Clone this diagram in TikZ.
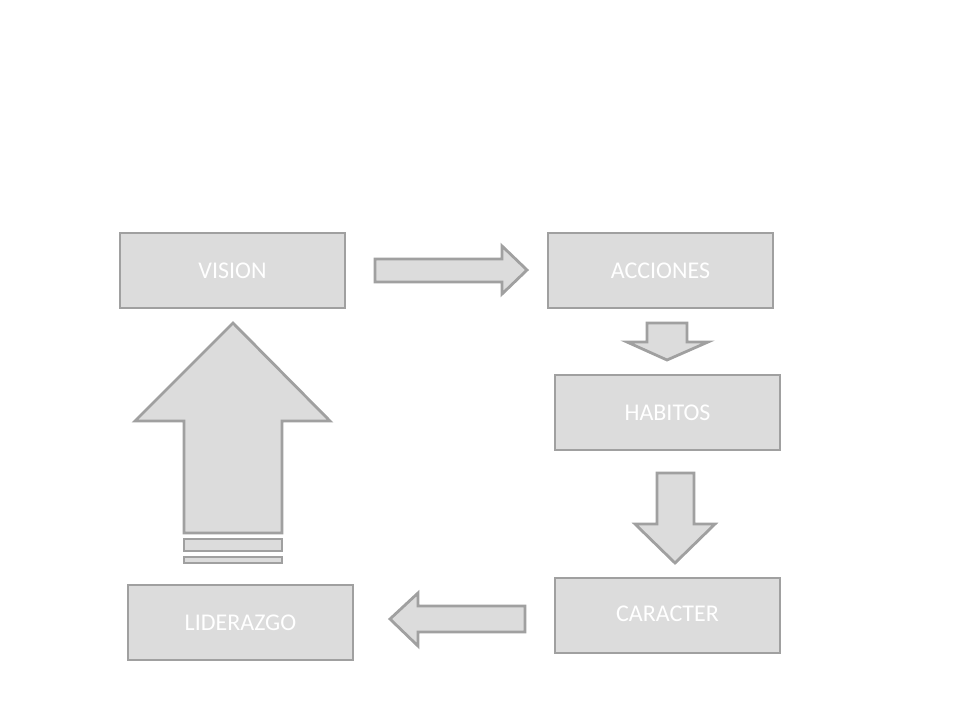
\documentclass[tikz,border=0pt]{standalone}
\usepackage{fontspec}
\setmainfont{Carlito}
\definecolor{boxfill}{HTML}{DCDCDC}
\definecolor{boxline}{HTML}{A0A0A0}
\begin{document}
\begin{tikzpicture}[x=1pt,y=-1pt,
  shp/.style={fill=boxfill,draw=boxline,line width=2.8pt,line join=miter},
  stepbox/.style={shp,minimum width=225pt,minimum height=75pt,inner sep=0pt,text=white,font=\fontsize{24}{28}\selectfont}]
\useasboundingbox (0,0) rectangle (960,720);
\node[stepbox] (vision) at (232.5,270.5) {VISION};
\node[stepbox] (acciones) at (660.5,270.5) {ACCIONES};
\node[stepbox] (habitos) at (667.5,412.5) {HABITOS};
\node[stepbox] (caracter) at (667.5,615.5) {\raisebox{3pt}{CARACTER}};
\node[stepbox] (liderazgo) at (240.5,622.5) {LIDERAZGO};
% right arrow
\draw[shp] (375,259) -- (502,259) -- (502,246) -- (527,270) -- (502,294) -- (502,282) -- (375,282) -- cycle;
% small down arrow
\draw[shp] (647,323) -- (687,323) -- (687,342) -- (708,342) -- (667,360) -- (627,342) -- (647,342) -- cycle;
% down arrow 2
\draw[shp] (657,473) -- (694,473) -- (694,524) -- (715,524) -- (675,563) -- (635,524) -- (657,524) -- cycle;
% left arrow
\draw[shp] (525,606) -- (418,606) -- (418,593) -- (390,619) -- (418,646) -- (418,632) -- (525,632) -- cycle;
% big up arrow
\draw[shp] (233,323) -- (330,421) -- (282,421) -- (282,533) -- (184,533) -- (184,421) -- (135,421) -- cycle;
\draw[shp] (184,539) rectangle (282,551);
\draw[shp] (184,557) rectangle (282,563);
\end{tikzpicture}
\end{document}
